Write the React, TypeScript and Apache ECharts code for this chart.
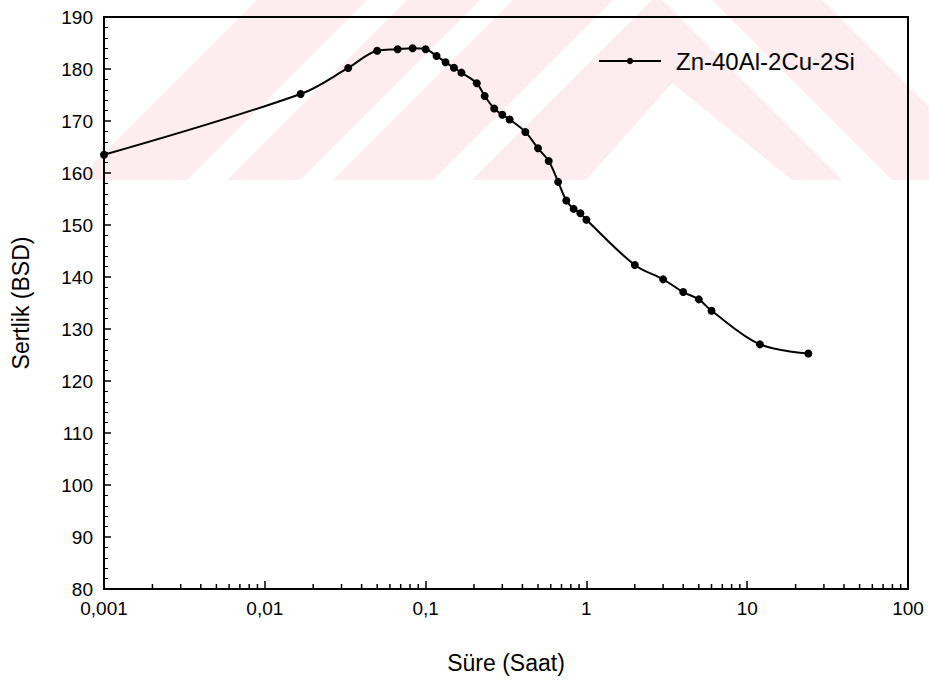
import React, { useEffect, useRef } from "react";
import * as echarts from "echarts";

const seriesName = "Zn-40Al-2Cu-2Si";
const timeHours = [
  0.001, 0.0167, 0.033, 0.05, 0.067, 0.083, 0.1, 0.117, 0.133, 0.15, 0.167,
  0.208, 0.233, 0.267, 0.3, 0.333, 0.417, 0.5, 0.583, 0.667, 0.75, 0.833,
  0.917, 1, 2, 3, 4, 5, 6, 12, 24,
];
const hardness = [
  163.5, 175.2, 180.2, 183.5, 183.8, 184.0, 183.8, 182.5, 181.3, 180.25, 179.3,
  177.25, 174.8, 172.4, 171.2, 170.3, 167.9, 164.75, 162.3, 158.3, 154.7, 153.1,
  152.25, 151.0, 142.3, 139.55, 137.1, 135.7, 133.5, 127.05, 125.3,
];
const xDecades = [0.001, 0.01, 0.1, 1, 10];
const minorMultipliers = [2, 3, 4, 5, 6, 7, 8, 9];
const yMin = 80;
const yMax = 190;
const yInterval = 10;

const PINK = "#fdedf0";
const FONT = "Liberation Sans, Arial, sans-serif";

export default function App() {
  const ref = useRef<HTMLDivElement>(null);
  useEffect(() => {
    if (!ref.current) return;
    const chart = echarts.init(ref.current, null, { renderer: "svg" });
    const minorTicks: number[][] = [];
    xDecades.forEach((d) =>
      minorMultipliers.forEach((m) => minorTicks.push([d * m, yMin]))
    );
    const fmtX = (v: number) =>
      String(Number(v.toPrecision(6))).replace(".", ",");
    const poly = (pts: number[][]) => ({
      type: "polygon",
      z: -10,
      silent: true,
      shape: { points: pts },
      style: { fill: PINK },
    });
    chart.setOption({
      animation: false,
      backgroundColor: "#fff",
      graphic: [
        poly([[77, 180], [187, 180], [367, 0], [257, 0]]),
        poly([[227, 180], [300, 180], [480, 0], [407, 0]]),
        poly([[333, 180], [433, 180], [613, 0], [513, 0]]),
        poly([[472, 180], [652, 0], [662, 0], [842, 180], [792, 180], [672, 83], [586, 180]]),
        poly([[712, 0], [822, 0], [929, 107], [929, 180], [892, 180]]),
      ],
      grid: {
        left: 104,
        right: 21,
        top: 17,
        bottom: 91,
        show: true,
        borderColor: "#000",
        borderWidth: 2,
        backgroundColor: "transparent",
      },
      legend: {
        data: [seriesName],
        left: 593,
        top: 44,
        itemWidth: 62,
        itemHeight: 8,
        textStyle: {
          fontFamily: FONT,
          fontSize: 24,
          color: "#000",
          padding: [0, 0, 0, 10],
        },
      },
      xAxis: {
        type: "log",
        logBase: 10,
        min: 0.001,
        max: 100,
        name: "Süre (Saat)",
        nameLocation: "middle",
        nameGap: 62,
        nameTextStyle: { fontFamily: FONT, fontSize: 23, color: "#000" },
        axisLine: { lineStyle: { color: "#000", width: 2 } },
        axisTick: { inside: true, length: 8, lineStyle: { color: "#000", width: 1.5 } },
        axisLabel: {
          fontFamily: FONT,
          fontSize: 19,
          color: "#000",
          margin: 10,
          formatter: fmtX,
        },
        splitLine: { show: false },
      },
      yAxis: {
        type: "value",
        min: yMin,
        max: yMax,
        interval: yInterval,
        name: "Sertlik (BSD)",
        nameLocation: "middle",
        nameGap: 72,
        nameTextStyle: { fontFamily: FONT, fontSize: 23, color: "#000" },
        axisLine: { show: true, lineStyle: { color: "#000", width: 2 } },
        axisTick: { inside: true, length: 7, lineStyle: { color: "#000", width: 1.5 } },
        minorTick: {
          show: true,
          splitNumber: 5,
          length: 4,
          lineStyle: { color: "#000", width: 1 },
        },
        axisLabel: { fontFamily: FONT, fontSize: 19, color: "#000", margin: 11 },
        splitLine: { show: false },
      },
      series: [
        {
          name: seriesName,
          type: "line",
          data: timeHours.map((t, i) => [t, hardness[i]]),
          smooth: 0.35,
          symbol: "circle",
          symbolSize: 8,
          lineStyle: { color: "#000", width: 2 },
          itemStyle: { color: "#000" },
          z: 5,
        },
        {
          name: "minorTicks",
          type: "custom",
          silent: true,
          data: minorTicks,
          encode: { x: 0, y: 1 },
          renderItem: (params: any, api: any) => {
            const p = api.coord([api.value(0), api.value(1)]);
            return {
              type: "line",
              shape: { x1: p[0], y1: p[1], x2: p[0], y2: p[1] - 5 },
              style: { stroke: "#000", lineWidth: 1.5 },
            };
          },
          z: 4,
        },
      ],
    });
    return () => chart.dispose();
  }, []);
  return (
    <div
      ref={ref}
      style={{ position: "absolute", left: 0, top: 0, width: 929, height: 680 }}
    />
  );
}
